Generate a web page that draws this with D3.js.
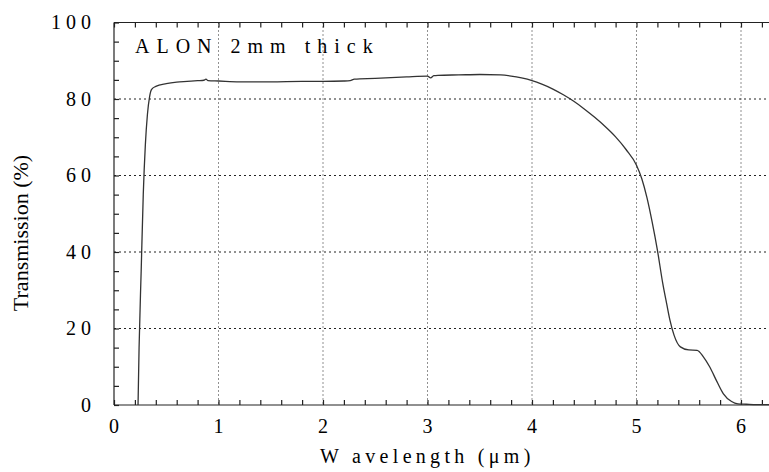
<!DOCTYPE html>
<html>
<head>
<meta charset="utf-8">
<script src="https://cdn.jsdelivr.net/npm/d3@7"></script>
<style>
  body { margin: 0; background: #fff; }
  svg { display: block; }
</style>
</head>
<body>
<script>
'use strict';

var W = 769;
var H = 472;
var FONT = 'Liberation Serif, DejaVu Serif, serif';

// curve
var wavelength = [0.23, 0.24, 0.26, 0.28, 0.30, 0.32, 0.34, 0.36, 0.40, 0.50, 0.60, 0.70,
  0.80, 0.86, 0.88, 0.90, 1.0, 1.2, 1.5, 1.8, 2.0, 2.2, 2.26, 2.30, 2.5, 2.8, 3.0, 3.03,
  3.06, 3.1, 3.3, 3.5, 3.7, 3.8, 3.9, 4.0, 4.1, 4.2, 4.3, 4.4, 4.5, 4.6, 4.7, 4.8, 4.9,
  5.0, 5.05, 5.1, 5.15, 5.2, 5.25, 5.29, 5.32, 5.36, 5.42, 5.5, 5.58, 5.64, 5.7, 5.77,
  5.83, 5.91, 5.97, 6.05, 6.15, 6.3];
var transmission = [0, 15, 35, 55, 68, 76, 80.5, 82.5, 83.3, 84.0, 84.4, 84.6,
  84.8, 84.9, 85.2, 84.8, 84.7, 84.5, 84.5, 84.6, 84.6, 84.7, 84.8, 85.2, 85.4, 85.8, 86.0, 85.5,
  86.1, 86.2, 86.3, 86.4, 86.3, 86.0, 85.5, 84.8, 83.8, 82.6, 81.1, 79.4, 77.4, 75.2, 72.8, 70.1, 66.8,
  62.7, 59.2, 54.2, 47.8, 40.5, 32.0, 26.3, 22.2, 18.2, 15.2, 14.4, 14.3, 12.6, 10.0, 6.1,
  3.0, 0.9, 0.3, 0.2, 0.1, 0.1];

var xTicks = [0, 1, 2, 3, 4, 5, 6];
var yTicks = [0, 20, 40, 60, 80, 100];
var xMinor = d3.range(0, 6.41, 0.2);
var yMinor = d3.range(0, 100.1, 5);

var title = 'ALON 2mm thick';
var xLabel = 'W avelength (\u03bcm)';
var yLabel = 'Transmission (%)';

var plotLeft = 114, plotTop = 22.5, plotBottom = 405;
var x = d3.scaleLinear().domain([0, 6.4]).range([plotLeft, plotLeft + 6.4 * 104.5]);
var y = d3.scaleLinear().domain([0, 100]).range([plotBottom, plotTop]);

var svg = d3.select('body').append('svg')
  .attr('width', W)
  .attr('height', H)
  .attr('font-family', FONT);

// grid
svg.append('g').selectAll('line')
  .data(yTicks.filter(function(d) { return d > 0 && d < 100; }))
  .enter().append('line')
  .attr('x1', plotLeft).attr('x2', x.range()[1])
  .attr('y1', function(d) { return y(d); })
  .attr('y2', function(d) { return y(d); })
  .attr('stroke', '#222').attr('stroke-width', 1)
  .attr('stroke-dasharray', '2,3');

svg.append('g').selectAll('line')
  .data(xTicks.filter(function(d) { return d > 0; }))
  .enter().append('line')
  .attr('x1', function(d) { return x(d); })
  .attr('x2', function(d) { return x(d); })
  .attr('y1', plotTop).attr('y2', plotBottom)
  .attr('stroke', '#222').attr('stroke-width', 1)
  .attr('stroke-dasharray', '1,3');

// frame axes, ticks inward
svg.append('g')
  .attr('transform', 'translate(0,' + plotBottom + ')')
  .call(d3.axisBottom(x).tickValues(xMinor).tickSize(-5).tickFormat(''))
  .call(function(g) { g.select('.domain').attr('d', 'M' + plotLeft + ',0H' + x.range()[1]); });

svg.append('g')
  .attr('transform', 'translate(0,' + plotTop + ')')
  .call(d3.axisTop(x).tickValues(xMinor).tickSize(-5).tickFormat(''))
  .call(function(g) { g.select('.domain').attr('d', 'M' + plotLeft + ',0H' + x.range()[1]); });

svg.append('g')
  .attr('transform', 'translate(' + plotLeft + ',0)')
  .call(d3.axisLeft(y).tickValues(yMinor).tickSize(-5).tickFormat(''))
  .call(function(g) { g.select('.domain').attr('d', 'M0,' + plotBottom + 'V' + plotTop); });

svg.selectAll('.domain, .tick line').attr('stroke', '#222').attr('stroke-width', 1.2);

// tick labels
svg.append('g').selectAll('text')
  .data(xTicks)
  .enter().append('text')
  .attr('x', function(d) { return x(d); })
  .attr('y', 433)
  .attr('text-anchor', 'middle')
  .attr('font-family', FONT)
  .attr('font-size', 20)
  .text(function(d) { return d; });

svg.append('g').selectAll('text')
  .data(yTicks)
  .enter().append('text')
  .attr('x', 96)
  .attr('y', function(d) { return y(d) + 6.5; })
  .attr('text-anchor', 'end')
  .attr('font-family', FONT)
  .attr('font-size', 20)
  .attr('letter-spacing', 5)
  .text(function(d) { return d; });

// curve
var line = d3.line()
  .x(function(d, i) { return x(wavelength[i]); })
  .y(function(d) { return y(d); })
  .curve(d3.curveMonotoneX);

svg.append('path')
  .datum(transmission)
  .attr('d', line)
  .attr('fill', 'none')
  .attr('stroke', '#333')
  .attr('stroke-width', 1.3);

// labels
svg.append('text')
  .attr('x', 135).attr('y', 53)
  .attr('font-family', FONT)
  .attr('font-size', 20)
  .attr('letter-spacing', 7)
  .text(title);

svg.append('text')
  .attr('x', 320).attr('y', 463)
  .attr('font-family', FONT)
  .attr('font-size', 20)
  .attr('letter-spacing', 4.3)
  .text(xLabel);

svg.append('text')
  .attr('transform', 'translate(28,233) rotate(-90)')
  .attr('text-anchor', 'middle')
  .attr('font-family', FONT)
  .attr('font-size', 22)
  .text(yLabel);
</script>
</body>
</html>
